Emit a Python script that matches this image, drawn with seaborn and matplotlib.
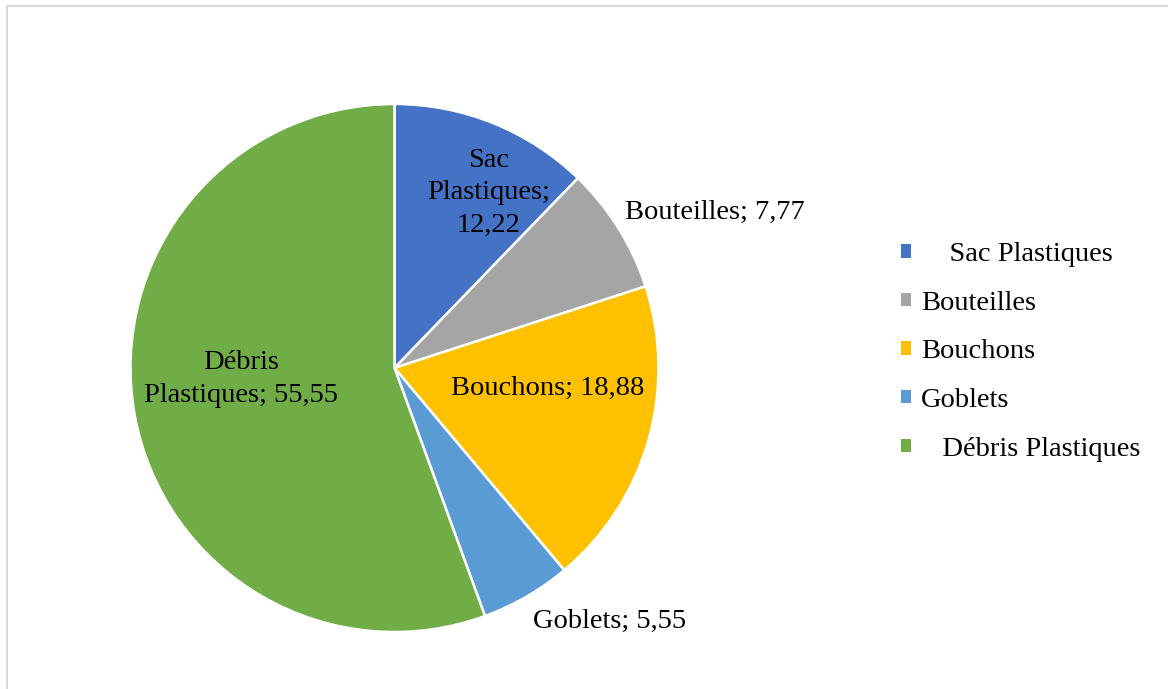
import matplotlib
matplotlib.use("Agg")
import matplotlib.pyplot as plt
from matplotlib.patches import Rectangle, Patch
import seaborn as sns

# Waste composition (%)
categories = ["Sac Plastiques", "Bouteilles", "Bouchons", "Goblets", "Débris Plastiques"]
values = [12.22, 7.77, 18.88, 5.55, 55.55]
colors = ["#4472C4", "#A5A5A5", "#FFC000", "#5B9BD5", "#70AD47"]
legend_labels = ["    Sac Plastiques", "Bouteilles", "Bouchons", "Goblets", "   Débris Plastiques"]
slice_labels = ["Sac\nPlastiques;\n{v}", "Bouteilles; {v}", "Bouchons; {v}", "Goblets; {v}",
                "Débris\nPlastiques; {v}"]

# label anchor positions (pie radius = 1)
label_pos = [(0.356, 0.663), (1.212, 0.591), (0.580, -0.076), (0.814, -0.958), (-0.580, -0.042)]

sns.set_theme(style="white")
plt.rcParams["font.family"] = ["Liberation Serif", "DejaVu Serif"]
FS = 20.5

palette = sns.color_palette(colors)

fig = plt.figure(figsize=(11.68, 6.89), dpi=100)
W, H = 1168, 689
cx, cy, r = 394.5, 368, 264
ax = fig.add_axes([(cx - r) / W, (H - cy - r) / H, 2 * r / W, 2 * r / H])

wedges, _ = ax.pie(values, colors=palette, startangle=90, counterclock=False,
                   radius=1, wedgeprops=dict(edgecolor="white", linewidth=1.8))
ax.set_xlim(-1, 1)
ax.set_ylim(-1, 1)
ax.set_aspect("equal")
ax.axis("off")

for tmpl, v, (x, y) in zip(slice_labels, values, label_pos):
    txt = tmpl.format(v=f"{v:.2f}".replace(".", ","))
    ax.text(x, y, txt, ha="center", va="center", fontsize=FS, color="black",
            linespacing=1.38, clip_on=False)

handles = [Patch(facecolor=c, edgecolor="none") for c in palette]
leg = fig.legend(handles, legend_labels, loc="upper left",
                 bbox_to_anchor=(901 / W, 1 - 242 / H), frameon=False,
                 fontsize=FS, handlelength=0.35, handleheight=0.35, handletextpad=0.35,
                 labelspacing=0.83, borderpad=0, borderaxespad=0)
for t in leg.get_texts():
    t.set_color("black")

# chart area border
fig.add_artist(Rectangle((6.5 / W, -0.1), 1.2, (H - 5.5) / H + 0.1,
                         transform=fig.transFigure, fill=False,
                         edgecolor="#D9D9D9", linewidth=1.5))

fig.savefig("out.png", dpi=100, facecolor="white")
